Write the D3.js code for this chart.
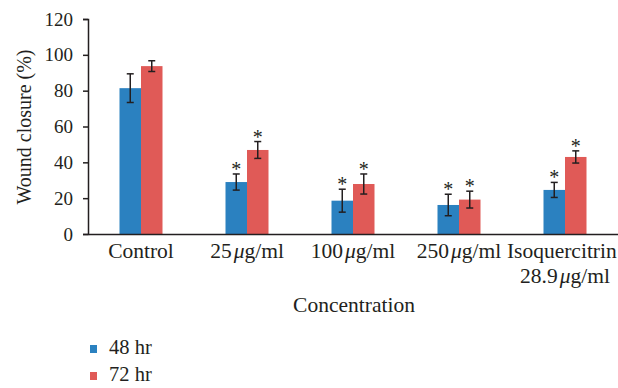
<!DOCTYPE html>
<html><head><meta charset="utf-8">
<script src="https://cdn.jsdelivr.net/npm/d3@7"></script>
<style>body{margin:0;background:#fff}svg text{fill:#231f20}</style>
</head><body><svg id="c" width="618" height="388"></svg>
<script>
const categories = ["Control", "25", "100", "250", "Isoquercitrin"];
const labelLines = [["Control"], ["25|μ|g/ml"], ["100|μ|g/ml"], ["250|μ|g/ml"], ["Isoquercitrin", "28.9|μ|g/ml"]];
const series = ["48 hr", "72 hr"];
const values48 = [81.4, 29.0, 18.6, 16.2, 24.6];
const errors48 = [8.0, 4.5, 6.4, 6.0, 4.2];
const values72 = [93.7, 46.9, 27.9, 19.2, 43.0];
const errors72 = [3.0, 4.7, 5.6, 4.7, 3.4];
const significant48 = [false, true, true, true, true];
const significant72 = [false, true, true, true, true];
const yTicks = [0, 20, 40, 60, 80, 100, 120];
const colors = ["#2b81c0", "#e05a57"];

const FONT = "'Liberation Serif', 'DejaVu Serif', serif";
const W = 618;
const svg = d3.select("#c");
const x = d3.scaleBand().domain(categories).range([88, 618]);
const xi = d3.scaleBand().domain(series).range([x.bandwidth()/2 - 21.5, x.bandwidth()/2 + 21.5]);
const y = d3.scaleLinear().domain([0, 120]).range([234, 19]);
const color = d3.scaleOrdinal().domain(series).range(colors);

const rows = [];
categories.forEach((c, i) => {
  rows.push({c, s: series[0], v: values48[i], e: errors48[i], sig: significant48[i]});
  rows.push({c, s: series[1], v: values72[i], e: errors72[i], sig: significant72[i]});
});

svg.append("g").selectAll("rect").data(rows).join("rect")
  .attr("x", d => x(d.c) + xi(d.s)).attr("width", xi.bandwidth())
  .attr("y", d => y(d.v)).attr("height", d => y(0) - y(d.v))
  .attr("fill", d => color(d.s));

const eg = svg.append("g").attr("stroke", "#231f20").attr("stroke-width", 1.5);
rows.forEach(d => {
  const cx = x(d.c) + xi(d.s) + xi.bandwidth()/2;
  eg.append("line").attr("x1", cx).attr("x2", cx).attr("y1", y(d.v + d.e)).attr("y2", y(d.v - d.e));
  eg.append("line").attr("x1", cx - 3.5).attr("x2", cx + 3.5).attr("y1", y(d.v + d.e)).attr("y2", y(d.v + d.e));
  eg.append("line").attr("x1", cx - 3.5).attr("x2", cx + 3.5).attr("y1", y(d.v - d.e)).attr("y2", y(d.v - d.e));
  if (d.sig) {
    svg.append("text").attr("x", cx).attr("y", y(d.v + d.e) + 2)
      .attr("text-anchor", "middle").attr("font-family", FONT).attr("font-size", 20).text("*");
  }
});

const ya = svg.append("g").attr("transform", "translate(88,0)")
  .call(d3.axisLeft(y).tickValues(yTicks).tickSize(5).tickPadding(10));
ya.attr("font-family", FONT);
ya.select(".domain").attr("stroke", "#231f20").attr("stroke-width", 1.5);
ya.selectAll(".tick line").attr("stroke", "#231f20").attr("stroke-width", 1.5);
ya.selectAll(".tick text").attr("font-size", 19).attr("fill", "#231f20");

const xa = svg.append("g").attr("transform", "translate(0,234)")
  .call(d3.axisBottom(x).tickSize(0).tickFormat(""));
xa.select(".domain").attr("stroke", "#231f20").attr("stroke-width", 1.5);

categories.forEach((c, i) => {
  labelLines[i].forEach((ln, j) => {
    const t = svg.append("text").attr("x", x(c) + x.bandwidth()/2)
      .attr("y", 258 + j * 25).attr("text-anchor", "middle").attr("font-family", FONT).attr("font-size", 21.5);
    const parts = ln.split("|");
    if (parts.length === 1) { t.text(ln); }
    else {
      t.append("tspan").text(parts[0]);
      t.append("tspan").attr("font-style", "italic").attr("dx", 2).text(parts[1]);
      t.append("tspan").text(parts[2]);
    }
    // keep text inside the page
    const bb = t.node().getBBox();
    if (bb.x + bb.width > W - 1) t.attr("x", +t.attr("x") - (bb.x + bb.width - (W - 1)));
  });
});

svg.append("text").attr("transform", "translate(31,127) rotate(-90)")
  .attr("text-anchor", "middle").attr("font-family", FONT).attr("font-size", 20).text("Wound closure (%)");
svg.append("text").attr("x", 354).attr("y", 312)
  .attr("text-anchor", "middle").attr("font-family", FONT).attr("font-size", 21.5).text("Concentration");

series.forEach((s, i) => {
  svg.append("rect").attr("x", 90).attr("y", 345 + i * 27).attr("width", 7).attr("height", 8).attr("fill", color(s));
  svg.append("text").attr("x", 109).attr("y", 354 + i * 27).attr("font-family", FONT).attr("font-size", 20.5).text(s);
});
</script></body></html>
